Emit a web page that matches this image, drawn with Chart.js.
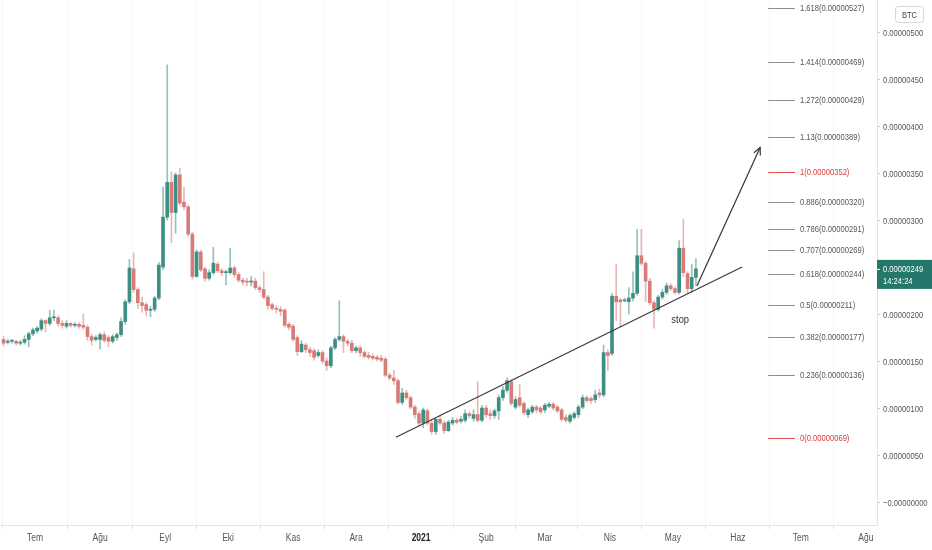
<!DOCTYPE html>
<html>
<head>
<meta charset="utf-8">
<script src="https://cdn.jsdelivr.net/npm/chart.js@4.4.0/dist/chart.umd.min.js"></script>
<style>
  html, body { margin: 0; padding: 0; background: #fff; }
  #wrap { width: 932px; height: 550px; }
</style>
</head>
<body>
<div id="wrap"><canvas id="chart"></canvas></div>
<script>
// 2-day candles, prices in satoshi (1e-8 BTC)
const firstCandle = '2020-06-16';
const candleStepDays = 2;
const opens  = [174,171,172,172,170,171,174,180,183,185,194,191,197,197,191,188,191,189,190,189,
                187,177,174,174,179,176,172,176,179,193,214,249,227,213,211,205,206,218,251,304,
                341,309,349,320,315,286,241,267,249,239,245,254,247,245,245,250,243,237,236,235,
                236,229,227,219,211,207,206,205,190,188,176,161,168,163,162,157,160,151,146,165,
                174,177,172,170,162,165,160,157,156,155,154,153,136,133,130,107,117,112,102,95,
                85,98,85,76,89,85,77,85,88,87,88,95,90,94,88,101,95,93,98,112,
                120,129,102,112,106,94,97,102,101,99,103,105,102,99,91,87,91,94,102,112,
                111,110,117,115,160,159,220,216,215,214,218,223,263,255,236,213,206,219,224,231,
                228,224,271,244,228,240];
const highs  = [177,174,174,173,173,178,182,186,188,196,195,205,205,199,194,194,192,192,192,201,
                189,180,178,181,182,178,179,181,197,216,259,266,229,219,213,209,220,256,336,466,
                352,351,356,336,317,288,269,269,251,248,272,256,249,248,271,252,245,239,239,241,
                239,231,246,221,213,210,209,207,192,190,178,173,170,166,164,163,162,154,167,176,
                215,179,174,173,167,167,162,160,159,157,157,155,138,141,132,122,120,114,104,97,
                101,100,88,90,93,87,88,91,90,92,99,97,99,129,104,104,99,100,115,124,
                133,131,113,126,108,101,104,104,103,106,107,107,104,101,94,95,97,104,115,114,
                113,120,121,168,163,223,254,218,218,229,246,291,291,257,239,215,221,227,234,233,
                230,279,302,246,254,260];
const lows   = [167,169,170,168,168,169,166,178,181,183,182,189,194,188,186,186,187,187,186,185,
                173,168,172,164,171,166,170,173,177,190,212,224,207,203,199,198,204,216,248,301,
                277,287,317,312,284,238,240,246,236,237,243,245,242,232,243,240,235,232,231,231,
                227,224,217,206,205,202,199,187,184,172,157,160,160,156,152,155,148,141,144,163,
                172,160,167,160,160,156,154,153,152,151,150,134,131,126,105,105,110,100,90,82,
                80,83,73,73,83,74,76,83,84,85,86,90,87,86,86,91,89,90,89,109,
                118,104,100,102,94,91,95,96,95,96,101,99,96,87,86,85,89,91,100,107,
                106,107,112,113,141,157,194,188,214,201,215,221,253,214,211,186,204,217,222,226,
                222,222,241,223,224,231];
const closes = [170,172,173,170,171,174,180,184,186,194,191,197,198,191,189,191,189,190,188,187,
                177,173,176,179,173,172,177,179,193,214,250,227,213,210,205,206,218,253,304,341,
                309,349,319,315,286,241,267,248,239,245,255,247,245,246,250,243,237,235,235,236,
                229,227,219,210,207,206,204,189,187,174,161,169,163,160,155,160,151,146,165,174,
                177,172,170,162,165,160,156,155,154,153,152,136,133,130,107,117,112,102,94,85,
                99,85,76,89,85,77,86,88,86,89,95,93,94,88,101,94,93,98,112,120,
                130,106,110,104,96,99,102,99,97,104,105,101,98,89,88,93,95,102,112,109,
                109,115,115,160,157,220,214,214,216,218,223,263,255,236,213,206,219,224,231,228,
                224,271,245,228,240,249];

// x axis: month starts and their Turkish labels
const monthDates  = ['2020-07-01','2020-08-01','2020-09-01','2020-10-01','2020-11-01','2020-12-01','2021-01-01',
                     '2021-02-01','2021-03-01','2021-04-01','2021-05-01','2021-06-01','2021-07-01','2021-08-01'];
const monthLabels = ['Tem','Ağu','Eyl','Eki','Kas','Ara','2021','Şub','Mar','Nis','May','Haz','Tem','Ağu'];
const priceTicks  = [0,50,100,150,200,250,300,350,400,450,500];

// fibonacci extension drawn on the chart
const fibRatios = [0,0.236,0.382,0.5,0.618,0.707,0.786,0.886,1,1.13,1.272,1.414,1.618];
const fibPrices = [69,136,177,211,244,269,291,320,352,389,429,469,527];

// drawings (x in days since 2020-07-01, y in satoshi)
const trendLine = [{x: 172, y: 70}, {x: 337, y: 251}];
const arrowPath = [{x: 315.5, y: 231}, {x: 345.6, y: 378}];
const stopNote  = {x: 307.5, y: 195, text: 'stop'};

const UP = '#3d8f84', DOWN = '#d67c78';
const UP_WICK = 'rgba(61,143,132,0.55)', DOWN_WICK = 'rgba(214,124,120,0.55)';
const FONT = "'Liberation Sans', sans-serif";

const base = Date.parse('2020-07-01');
const dayOf = s => (Date.parse(s) - base) / 86400000;
const startDay = dayOf(firstCandle);
const monthDays = monthDates.map(dayOf);

const wicks = [], bodies = [], wickColors = [], bodyColors = [];
closes.forEach((c, i) => {
    const x = startDay + i * candleStepDays;
    const o = opens[i];
    const up = c >= o;
    wicks.push({x, y: [lows[i], highs[i]]});
    bodies.push({x, y: [Math.min(o, c), Math.max(o, c)]});
    wickColors.push(up ? UP_WICK : DOWN_WICK);
    bodyColors.push(up ? UP : DOWN);
});

// narrow text, like the condensed axis font of the original
function narrowText(ctx, text, x, y, size, color, align = 'left', weight = 'normal', sx = 0.8) {
    ctx.save();
    ctx.font = `${weight} ${size}px ${FONT}`;
    ctx.fillStyle = color;
    ctx.textBaseline = 'middle';
    ctx.textAlign = align;
    ctx.translate(x, y);
    ctx.scale(sx, 1);
    ctx.fillText(text, 0, 0);
    ctx.restore();
}

const overlay = {
    id: 'overlay',
    afterDatasetsDraw(chart) {
        const {ctx, chartArea, scales: {x, y}} = chart;
        ctx.save();

        // fib levels
        const fx1 = x.getPixelForValue(349.4), fx2 = x.getPixelForValue(362.2);
        fibRatios.forEach((r, i) => {
            const py = Math.round(y.getPixelForValue(fibPrices[i])) + 0.5;
            const red = r === 0 || r === 1;
            ctx.strokeStyle = red ? '#e0504a' : '#8a8d96';
            ctx.lineWidth = 1;
            ctx.beginPath(); ctx.moveTo(fx1, py); ctx.lineTo(fx2, py); ctx.stroke();
            narrowText(ctx, `${r}(${(fibPrices[i] / 1e8).toFixed(8)})`, fx2 + 5, py,
                       9.5, red ? '#d8403a' : '#555');
        });

        // arrow head
        const a = arrowPath[arrowPath.length - 2], b = arrowPath[arrowPath.length - 1];
        const ax = x.getPixelForValue(a.x), ay = y.getPixelForValue(a.y);
        const bx = x.getPixelForValue(b.x), by = y.getPixelForValue(b.y);
        const ang = Math.atan2(by - ay, bx - ax);
        ctx.strokeStyle = '#333';
        ctx.lineWidth = 1.2;
        ctx.beginPath();
        ctx.moveTo(bx - 8 * Math.cos(ang - 0.45), by - 8 * Math.sin(ang - 0.45));
        ctx.lineTo(bx, by);
        ctx.lineTo(bx - 8 * Math.cos(ang + 0.45), by - 8 * Math.sin(ang + 0.45));
        ctx.stroke();

        // stop note
        narrowText(ctx, stopNote.text, x.getPixelForValue(stopNote.x), y.getPixelForValue(stopNote.y),
                   11, '#333', 'center', 'normal', 0.85);

        // y axis labels
        priceTicks.forEach(v => {
            const label = v === 0 ? '\u22120.00000000' : (v / 1e8).toFixed(8);
            narrowText(ctx, label, chartArea.right + 6, y.getPixelForValue(v), 9.5, '#555');
        });

        // x axis labels
        monthDays.forEach((d, i) => {
            const bold = monthLabels[i] === '2021';
            narrowText(ctx, monthLabels[i], x.getPixelForValue(d), chartArea.bottom + 13, 10,
                       bold ? '#222' : '#555', 'center', bold ? 'bold' : 'normal', 0.85);
        });

        // last price label
        const last = closes[closes.length - 1];
        const ly = y.getPixelForValue(last);
        ctx.fillStyle = '#23786b';
        ctx.fillRect(chartArea.right, ly - 9, chart.width - chartArea.right, 29);
        narrowText(ctx, (last / 1e8).toFixed(8), chartArea.right + 6, ly, 9.5, '#fff');
        narrowText(ctx, '14:24:24', chartArea.right + 6, ly + 12, 9.5, '#fff');
        ctx.strokeStyle = '#fff';
        ctx.lineWidth = 1;
        ctx.beginPath(); ctx.moveTo(chartArea.right, ly + 0.5); ctx.lineTo(chartArea.right + 3, ly + 0.5); ctx.stroke();

        // BTC badge
        ctx.strokeStyle = '#d6d8de';
        ctx.fillStyle = '#fff';
        ctx.beginPath();
        ctx.roundRect(895.5, 6.5, 28, 16, 3);
        ctx.fill(); ctx.stroke();
        narrowText(ctx, 'BTC', 909.5, 15, 9.5, '#444', 'center');

        ctx.restore();
    }
};

new Chart(document.getElementById('chart'), {
    type: 'bar',
    data: {
        datasets: [
            {
                label: 'bodies',
                data: bodies,
                backgroundColor: bodyColors,
                barThickness: 3,
                minBarLength: 1,
                grouped: false,
                order: 1
            },
            {
                label: 'wicks',
                data: wicks,
                backgroundColor: wickColors,
                barThickness: 1,
                grouped: false,
                order: 2
            },
            {
                type: 'line',
                label: 'trend',
                data: trendLine,
                borderColor: '#3a3a3a',
                borderWidth: 1.2,
                pointRadius: 0,
                order: 0
            },
            {
                type: 'line',
                label: 'arrow',
                data: arrowPath,
                borderColor: '#333',
                borderWidth: 1.2,
                pointRadius: 0,
                order: 0
            }
        ]
    },
    options: {
        responsive: true,
        maintainAspectRatio: false,
        animation: false,
        layout: { padding: 0 },
        plugins: {
            legend: { display: false },
            tooltip: { enabled: false }
        },
        scales: {
            x: {
                type: 'linear',
                min: -16.7,
                max: 401.3,
                offset: false,
                afterBuildTicks: s => { s.ticks = monthDays.map(v => ({value: v})); },
                afterFit: s => { s.height = 25; },
                grid: {
                    color: '#f5f6f8',
                    tickLength: 4,
                    tickColor: '#dcdee3'
                },
                border: { color: '#e0e3eb' },
                ticks: { display: false }
            },
            y: {
                position: 'right',
                min: -23.4,
                max: 535,
                afterBuildTicks: s => { s.ticks = priceTicks.map(v => ({value: v})); },
                afterFit: s => { s.width = 55; },
                grid: {
                    drawOnChartArea: false,
                    tickLength: 3,
                    tickColor: '#c8cad0'
                },
                border: { color: '#e0e3eb' },
                ticks: { display: false }
            }
        }
    },
    plugins: [overlay]
});
</script>
</body>
</html>
